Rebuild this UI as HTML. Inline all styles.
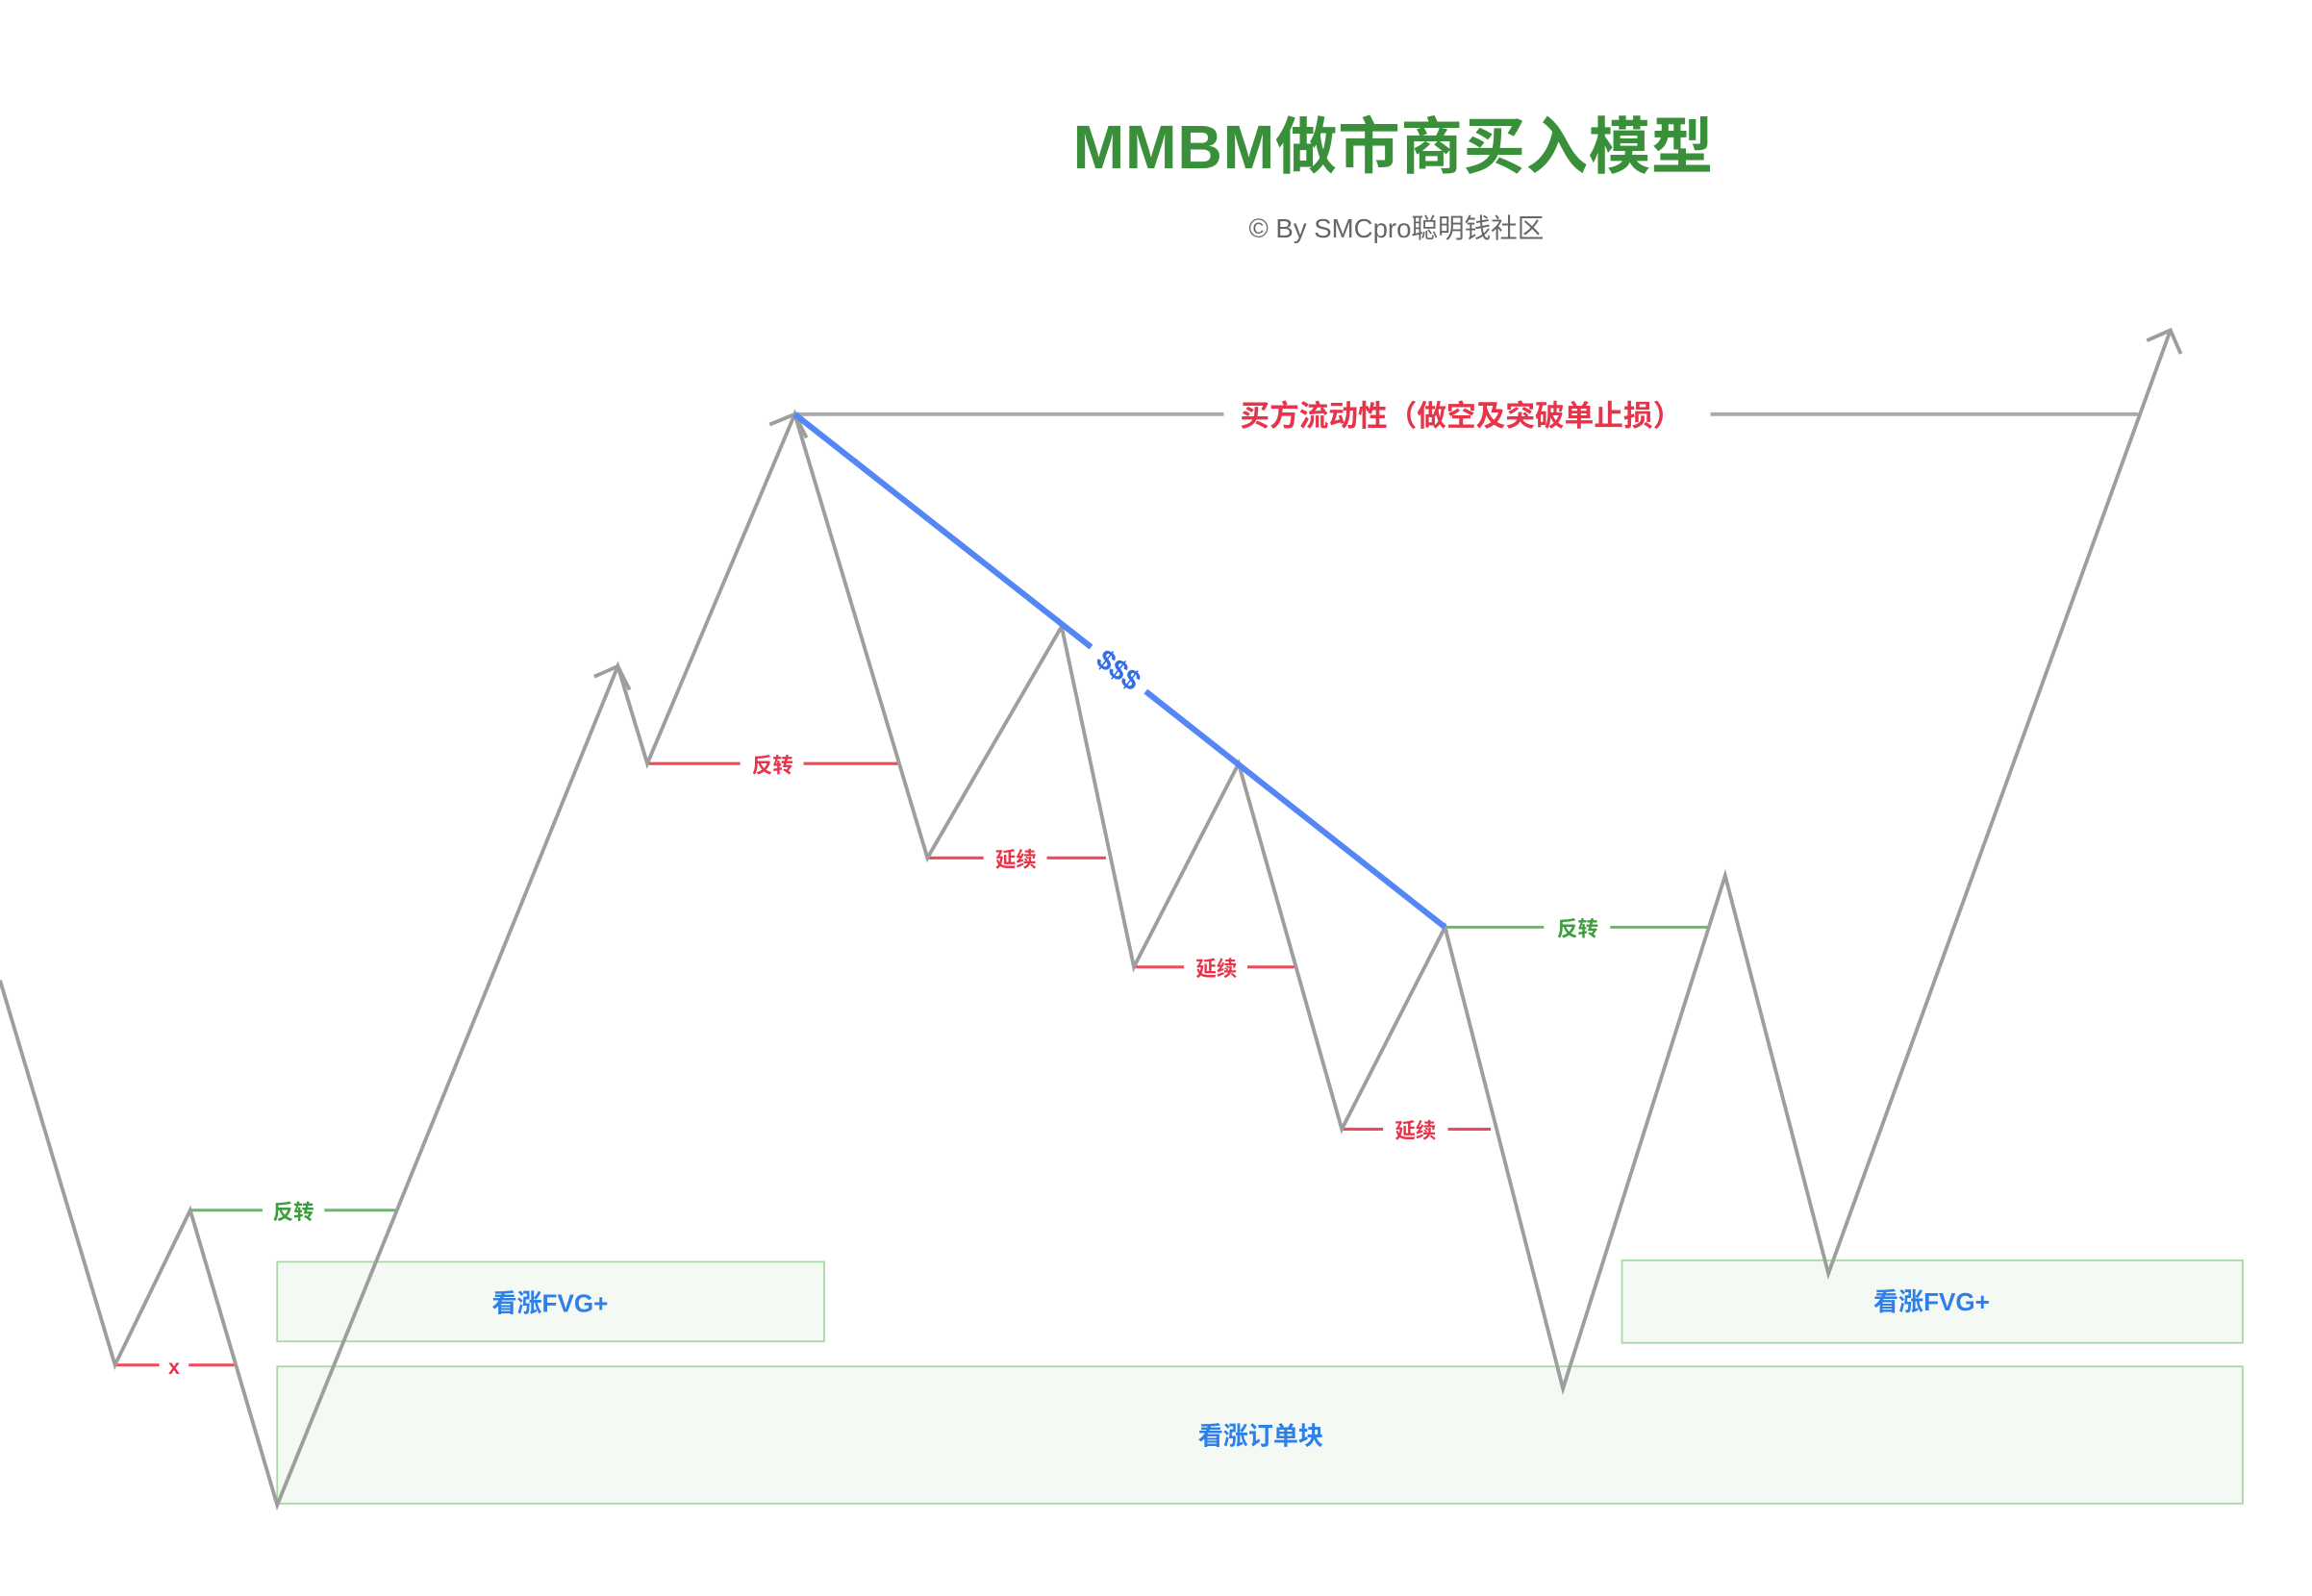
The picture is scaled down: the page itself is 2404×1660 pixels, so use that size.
<!DOCTYPE html>
<html><head><meta charset="utf-8"><style>
html,body{margin:0;padding:0;background:#fff;}
svg{display:block;}
text{font-family:"Liberation Sans","Noto Sans CJK SC",sans-serif;}
</style></head><body>
<svg width="2404" height="1660" viewBox="0 0 1568 1082.7" xmlns="http://www.w3.org/2000/svg">
<rect width="1568" height="1083" fill="#fff"/>
<g fill="#f4f9f4" stroke="#a9d9a9" stroke-width="1.2">
<rect x="188" y="856" width="371" height="54"/>
<rect x="1100" y="855" width="421" height="56"/>
<rect x="188" y="927" width="1333" height="93"/>
</g>
<g font-weight="bold" fill="#2f7fe8" font-size="17" text-anchor="middle">
<text x="373" y="890">看涨FVG+</text>
<text x="1310" y="889">看涨FVG+</text>
<text x="855" y="980">看涨订单块</text>
</g>
<text x="945" y="114" text-anchor="middle" font-size="42" font-weight="bold" fill="#3a8f3a" letter-spacing="0.5">MMBM做市商买入模型</text>
<text x="947" y="161" text-anchor="middle" font-size="18" fill="#666">© By SMCpro聪明钱社区</text>
<g stroke="#aaa" stroke-width="2.5">
<line x1="539" y1="281" x2="830" y2="281"/>
<line x1="1160" y1="281" x2="1450" y2="281"/>
</g>
<text x="991" y="289" text-anchor="middle" font-size="20" font-weight="bold" fill="#e8344a">买方流动性（做空及突破单止损）</text>
<g stroke="#ee4a5a" stroke-width="2">
<line x1="439" y1="518" x2="502" y2="518"/><line x1="545" y1="518" x2="609" y2="518"/>
<line x1="629" y1="582" x2="667" y2="582"/><line x1="710" y1="582" x2="750" y2="582"/>
<line x1="769" y1="656" x2="803" y2="656"/><line x1="846" y1="656" x2="880" y2="656"/>
<line x1="910" y1="766" x2="938" y2="766"/><line x1="982" y1="766" x2="1011" y2="766"/>
<line x1="78" y1="926" x2="108" y2="926"/><line x1="128" y1="926" x2="159" y2="926"/>
</g>
<g fill="#e8344a" font-size="14" font-weight="bold" text-anchor="middle">
<text x="524" y="524">反转</text>
<text x="689" y="588">延续</text>
<text x="825" y="662">延续</text>
<text x="960" y="772">延续</text>
<text x="118" y="932">x</text>
</g>
<g stroke="#66bb66" stroke-width="2">
<line x1="129" y1="821" x2="178" y2="821"/><line x1="220" y1="821" x2="270" y2="821"/>
<line x1="980" y1="629" x2="1047" y2="629"/><line x1="1092" y1="629" x2="1160" y2="629"/>
</g>
<g fill="#3a9f3a" font-size="14" font-weight="bold" text-anchor="middle">
<text x="199" y="827">反转</text>
<text x="1070" y="635">反转</text>
</g>
<polyline fill="none" stroke="#9e9e9e" stroke-width="2.5" points="0,665 78,926 129,821 188,1021 419,452 439,518 539,281 629,582 720,425 769,656 840,518 910,766 980,629 1060,942 1170,594 1240,864 1472,224"/>
<g fill="none" stroke="#9e9e9e" stroke-width="2.5">
<polyline points="403,459 419,452 427,468"/>
<polyline points="522,288 539,281 547,297"/>
<polyline points="1456,231 1472,224 1479,240"/>
</g>
<g stroke="#5586f5" stroke-width="4">
<line x1="539" y1="281" x2="740" y2="439"/>
<line x1="777" y1="469" x2="980" y2="629"/>
</g>
<text x="759" y="461" text-anchor="middle" font-size="19" font-weight="bold" fill="#2f6fe8" transform="rotate(38 759 454)">$$$</text>
</svg>
</body></html>
